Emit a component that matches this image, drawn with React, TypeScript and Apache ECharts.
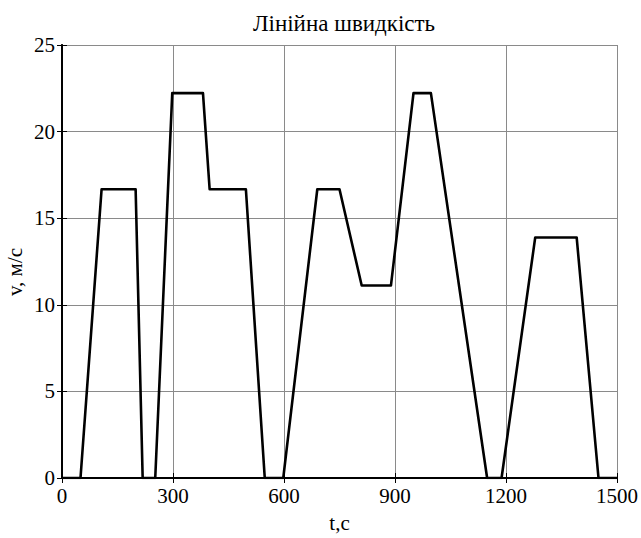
import React, { useEffect, useRef } from "react";
import * as echarts from "echarts";

const titleText = "Лінійна швидкість";
const xName = "t,c";
const yName = "v, м/с";
const timeS = [0, 50, 107, 199, 218, 252, 298, 381, 399, 497, 548, 598, 690, 750, 810, 889, 950, 997, 1149, 1188, 1279, 1391, 1450, 1500];
const speedMS = [0, 0, 16.67, 16.67, 0, 0, 22.22, 22.22, 16.67, 16.67, 0, 0, 16.67, 16.67, 11.11, 11.11, 22.22, 22.22, 0, 0, 13.89, 13.89, 0, 0];

const FONT = "Liberation Serif";

export default function App() {
  const ref = useRef<HTMLDivElement>(null);
  useEffect(() => {
    if (!ref.current) return;
    const chart = echarts.init(ref.current, undefined, { renderer: "svg" });
    const data = timeS.map((t, i) => [t, speedMS[i]]);
    const tickStyle = { show: true, inside: true, length: 5, lineStyle: { color: "#000", width: 1 } };
    const fmt = (v: number) => String(v);
    chart.setOption({
      animation: false,
      backgroundColor: "#fff",
      textStyle: { fontFamily: FONT },
      title: {
        text: titleText,
        left: 339,
        top: 7,
        textAlign: "center",
        textStyle: { fontFamily: FONT, fontSize: 23, fontWeight: "normal", color: "#000" },
      },
      grid: { left: 62, right: 24, top: 45, bottom: 56, containLabel: false },
      xAxis: [
        {
          type: "value",
          min: 0,
          max: 1500,
          interval: 300,
          position: "bottom",
          name: xName,
          nameLocation: "middle",
          nameGap: 34,
          nameTextStyle: { fontFamily: FONT, fontSize: 21, color: "#000" },
          axisLine: { show: true, lineStyle: { color: "#000", width: 1.8 } },
          axisTick: tickStyle,
          axisLabel: { fontFamily: FONT, fontSize: 21, color: "#000", margin: 7, formatter: fmt },
          splitLine: { show: true, lineStyle: { color: "#8a8a8a", width: 1 } },
        },
        {
          type: "value",
          min: 0,
          max: 1500,
          interval: 300,
          position: "top",
          axisLine: { show: true, lineStyle: { color: "#000", width: 1.8 } },
          axisTick: tickStyle,
          axisLabel: { show: false },
          splitLine: { show: false },
        },
      ],
      yAxis: [
        {
          type: "value",
          min: 0,
          max: 25,
          interval: 5,
          position: "left",
          axisLine: { show: true, lineStyle: { color: "#000", width: 1.8 } },
          axisTick: tickStyle,
          axisLabel: { fontFamily: FONT, fontSize: 21, color: "#000", margin: 7, formatter: fmt },
          splitLine: { show: true, lineStyle: { color: "#8a8a8a", width: 1 } },
        },
        {
          type: "value",
          min: 0,
          max: 25,
          interval: 5,
          position: "right",
          axisLine: { show: true, lineStyle: { color: "#000", width: 1.8 } },
          axisTick: tickStyle,
          axisLabel: { show: false },
          splitLine: { show: false },
        },
      ],
      graphic: [
        {
          type: "text",
          x: 15,
          y: 272,
          rotation: Math.PI / 2,
          style: {
            text: yName,
            fontFamily: FONT,
            fontSize: 21,
            fill: "#000",
            align: "center",
            verticalAlign: "middle",
          },
        },
      ],
      series: [
        {
          type: "line",
          xAxisIndex: 0,
          yAxisIndex: 0,
          data,
          showSymbol: false,
          lineStyle: { color: "#000", width: 2.6, join: "round" },
          z: 3,
        },
      ],
    });
    return () => chart.dispose();
  }, []);
  return (
    <div
      ref={ref}
      style={{ position: "absolute", left: 0, top: 0, width: 641, height: 538 }}
    />
  );
}
